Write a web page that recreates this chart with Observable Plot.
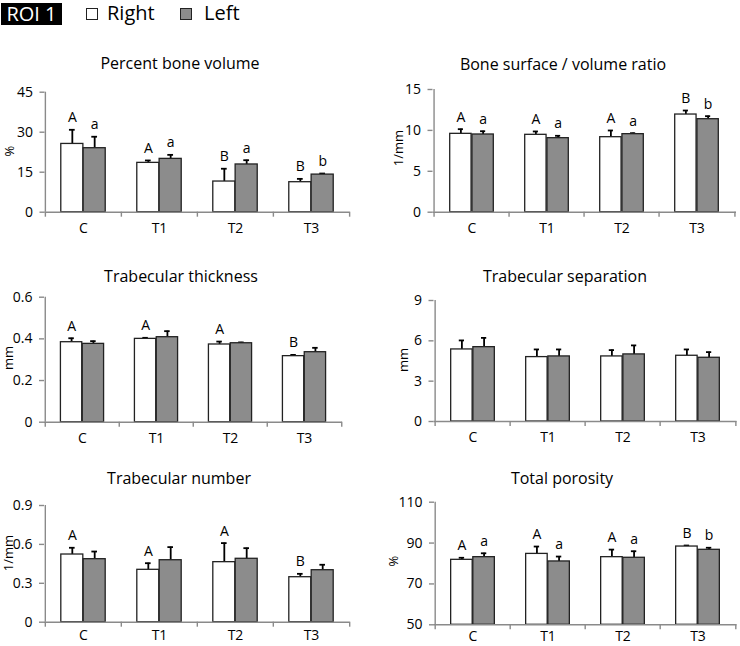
<!DOCTYPE html>
<html><head><meta charset="utf-8">
<script src="https://cdn.jsdelivr.net/npm/d3@7"></script>
<script src="https://cdn.jsdelivr.net/npm/@observablehq/plot@0.6"></script>
<style>
body{margin:0;background:#fff;font-family:"Open Sans",sans-serif;}
#root{position:relative;width:740px;height:646px;overflow:hidden;background:#fff;}
.title{position:absolute;transform:translate(-50%,-50%);font-size:16px;white-space:nowrap;color:#000;line-height:20px;}
.unit{position:absolute;transform:translate(-50%,-50%) rotate(-90deg);font-size:13px;white-space:nowrap;color:#000;line-height:16px;}
.panel{position:absolute;}
#legend{position:absolute;left:0;top:0;height:28px;width:300px;font-size:20px;color:#000;}
#roi{position:absolute;left:1px;top:3px;width:61px;height:22px;background:#000;color:#fff;font-size:20px;line-height:22px;text-align:center;}
.sw{position:absolute;top:8px;width:10px;height:10px;border:1px solid #222;}
.lt{position:absolute;top:-1px;line-height:28px;}
</style></head><body><div id="root">
<div id="legend">
  <div id="roi">ROI 1</div>
  <div class="sw" style="left:86px;background:#fff"></div><div class="lt" style="left:107px">Right</div>
  <div class="sw" style="left:180px;background:#8c8c8c"></div><div class="lt" style="left:204px">Left</div>
</div>
</div>
<script>
// ---- data ----
const categories = ["C", "T1", "T2", "T3"];
const series = ["Right", "Left"];
const panelTitles = ["Percent bone volume", "Bone surface / volume ratio", "Trabecular thickness", "Trabecular separation", "Trabecular number", "Total porosity"];
const units = ["%", "1/mm", "mm", "mm", "1/mm", "%"];
const yDomains = [[0, 45], [0, 15], [0, 0.6], [0, 9], [0, 0.9], [50, 110]];
const yTicks = [[0, 15, 30, 45], [0, 5, 10, 15], [0, 0.2, 0.4, 0.6], [0, 3, 6, 9], [0, 0.3, 0.6, 0.9], [50, 70, 90, 110]];
const yTickLabels = [["0", "15", "30", "45"], ["0", "5", "10", "15"], ["0", "0.2", "0.4", "0.6"], ["0", "3", "6", "9"], ["0", "0.3", "0.6", "0.9"], ["50", "70", "90", "110"]];

const rightMeans = [[25.6, 18.5, 11.5, 11.25], [9.58, 9.46, 9.17, 11.94], [0.384, 0.400, 0.373, 0.317], [5.36, 4.79, 4.84, 4.89], [0.522, 0.404, 0.463, 0.347], [81.8, 84.7, 83.1, 88.3]];
const rightErrors = [[5.3, 0.9, 4.8, 1.25], [0.57, 0.41, 0.82, 0.49], [0.019, 0.005, 0.014, 0.006], [0.67, 0.57, 0.47, 0.47], [0.052, 0.051, 0.147, 0.026], [1.0, 3.6, 3.7, 0.5]];
const leftMeans = [[24.0, 20.0, 17.9, 14.1], [9.5, 9.05, 9.54, 11.37], [0.376, 0.408, 0.379, 0.336], [5.53, 4.84, 4.99, 4.74], [0.486, 0.478, 0.489, 0.401], [83.1, 81.0, 82.8, 86.7]];
const leftErrors = [[4.3, 1.5, 1.6, 0.4], [0.4, 0.29, 0.12, 0.37], [0.013, 0.029, 0.004, 0.021], [0.69, 0.52, 0.67, 0.42], [0.059, 0.101, 0.082, 0.042], [1.9, 2.4, 3.2, 1.0]];
const rightLetters = [["A", "A", "B", "B"], ["A", "A", "A", "B"], ["A", "A", "A", "B"], ["", "", "", ""], ["A", "A", "A", "B"], ["A", "A", "A", "B"]];
const leftLetters = [["a", "a", "a", "b"], ["a", "a", "a", "b"], ["", "", "", ""], ["", "", "", ""], ["", "", "", ""], ["a", "a", "a", "b"]];

// ---- layout (page pixels) ----
const layout = [
  {left: 0,   top: 72,  h: 178, x0: 44.5, x1: 349.5, yTop: 91.7,  y0: 211.7, tx: 180, ty: 63,  lx: 9,   ly: 151, pad: 11},
  {left: 370, top: 72,  h: 178, x0: 432.5, x1: 736,  yTop: 89,    y0: 211.7, tx: 563, ty: 64,  lx: 398, ly: 148, pad: 11},
  {left: 0,   top: 285, h: 175, x0: 44,   x1: 342,   yTop: 296.7, y0: 421.7, tx: 181, ty: 276, lx: 8,   ly: 358, pad: 11},
  {left: 370, top: 285, h: 175, x0: 433.5, x1: 736.5, yTop: 300,  y0: 421,   tx: 565, ty: 276, lx: 403, ly: 360, pad: 11},
  {left: 0,   top: 490, h: 156, x0: 44,   x1: 349.5, yTop: 505,   y0: 621.7, tx: 179, ty: 478, lx: 8,   ly: 553, pad: 8},
  {left: 370, top: 490, h: 156, x0: 434,  x1: 736.5, yTop: 501.7, y0: 624.3, tx: 562, ty: 478, lx: 393, ly: 561, pad: 6}
];

const root = document.getElementById("root");
const axisGray = "#8a8a8a";
const barStroke = "#222";
const leftFill = "#8c8c8c";

layout.forEach((L, p) => {
  const rows = [];
  categories.forEach((c, i) => {
    rows.push({cat: c, series: "Right", value: rightMeans[p][i], err: rightErrors[p][i], letter: rightLetters[p][i]});
    rows.push({cat: c, series: "Left", value: leftMeans[p][i], err: leftErrors[p][i], letter: leftLetters[p][i]});
  });
  const R = rows.filter(d => d.series === "Right");
  const Lf = rows.filter(d => d.series === "Left");
  const base = yDomains[p][0];
  const top = yDomains[p][1];
  const W = 370;
  const mL = L.x0 - L.left, mR = L.left + W - L.x1, mT = L.yTop - L.top, mB = L.top + L.h - L.y0;
  const bw = (L.x1 - L.x0) / categories.length;
  const barW = bw * 0.293;
  const off = barW / 2;
  const capHalf = 3;
  const errStyle = {stroke: "#000", strokeWidth: 1.8};

  const chart = Plot.plot({
    width: W, height: L.h,
    marginLeft: mL, marginRight: mR, marginTop: mT, marginBottom: mB,
    x: {domain: categories, padding: 0, label: null},
    y: {domain: yDomains[p], label: null},
    style: {fontFamily: "Open Sans", fontSize: "14px", background: "transparent", color: "#000"},
    marks: [
      Plot.ruleX(R, {x: "cat", y1: "value", y2: d => d.value + d.err, dx: -off, ...errStyle}),
      Plot.tickY(R, {x: "cat", y: d => d.value + d.err, dx: -off, insetLeft: bw / 2 - capHalf, insetRight: bw / 2 - capHalf, ...errStyle}),
      Plot.ruleX(Lf, {x: "cat", y1: "value", y2: d => d.value + d.err, dx: off, ...errStyle}),
      Plot.tickY(Lf, {x: "cat", y: d => d.value + d.err, dx: off, insetLeft: bw / 2 - capHalf, insetRight: bw / 2 - capHalf, ...errStyle}),
      Plot.barY(R, {x: "cat", y1: () => base, y2: "value", fill: "#fff", stroke: barStroke, strokeWidth: 1.3, insetLeft: bw / 2 - barW, insetRight: bw / 2}),
      Plot.barY(Lf, {x: "cat", y1: () => base, y2: "value", fill: leftFill, stroke: barStroke, strokeWidth: 1.3, insetLeft: bw / 2, insetRight: bw / 2 - barW}),
      Plot.text(R.filter(d => d.letter), {x: "cat", y: d => d.value + d.err, text: "letter", dx: -off, dy: -12, fontSize: 14}),
      Plot.text(Lf.filter(d => d.letter), {x: "cat", y: d => d.value + d.err, text: "letter", dx: off, dy: -12, fontSize: 14}),
      // axes lines
      Plot.ruleY([base], {stroke: axisGray, strokeWidth: 1.4}),
      Plot.ruleX([categories[0]], {x: d => d, y1: () => base, y2: () => top, dx: -bw / 2, stroke: axisGray, strokeWidth: 1.4}),
      Plot.ruleX(categories, {x: d => d, y1: () => base, y2: () => base, insetBottom: -5, dx: -bw / 2, stroke: axisGray, strokeWidth: 1.4}),
      Plot.ruleX([categories[categories.length - 1]], {x: d => d, y1: () => base, y2: () => base, insetBottom: -5, dx: bw / 2, stroke: axisGray, strokeWidth: 1.4}),
      Plot.axisY(yTicks[p], {tickSize: 5, tickPadding: 7, stroke: axisGray, strokeWidth: 1.4, fill: "#000", fontSize: 14, label: null,
        tickFormat: (d) => yTickLabels[p][yTicks[p].indexOf(d)]}),
      Plot.axisX({tickSize: 0, tickPadding: L.pad, fontSize: 14, fill: "#000", label: null})
    ]
  });
  const wrap = document.createElement("div");
  wrap.className = "panel";
  wrap.style.left = L.left + "px";
  wrap.style.top = L.top + "px";
  wrap.appendChild(chart);
  root.appendChild(wrap);

  const t = document.createElement("div");
  t.className = "title";
  t.style.left = L.tx + "px";
  t.style.top = L.ty + "px";
  t.textContent = panelTitles[p];
  root.appendChild(t);

  const u = document.createElement("div");
  u.className = "unit";
  u.style.left = L.lx + "px";
  u.style.top = L.ly + "px";
  u.textContent = units[p];
  root.appendChild(u);
});
</script>
</body></html>
